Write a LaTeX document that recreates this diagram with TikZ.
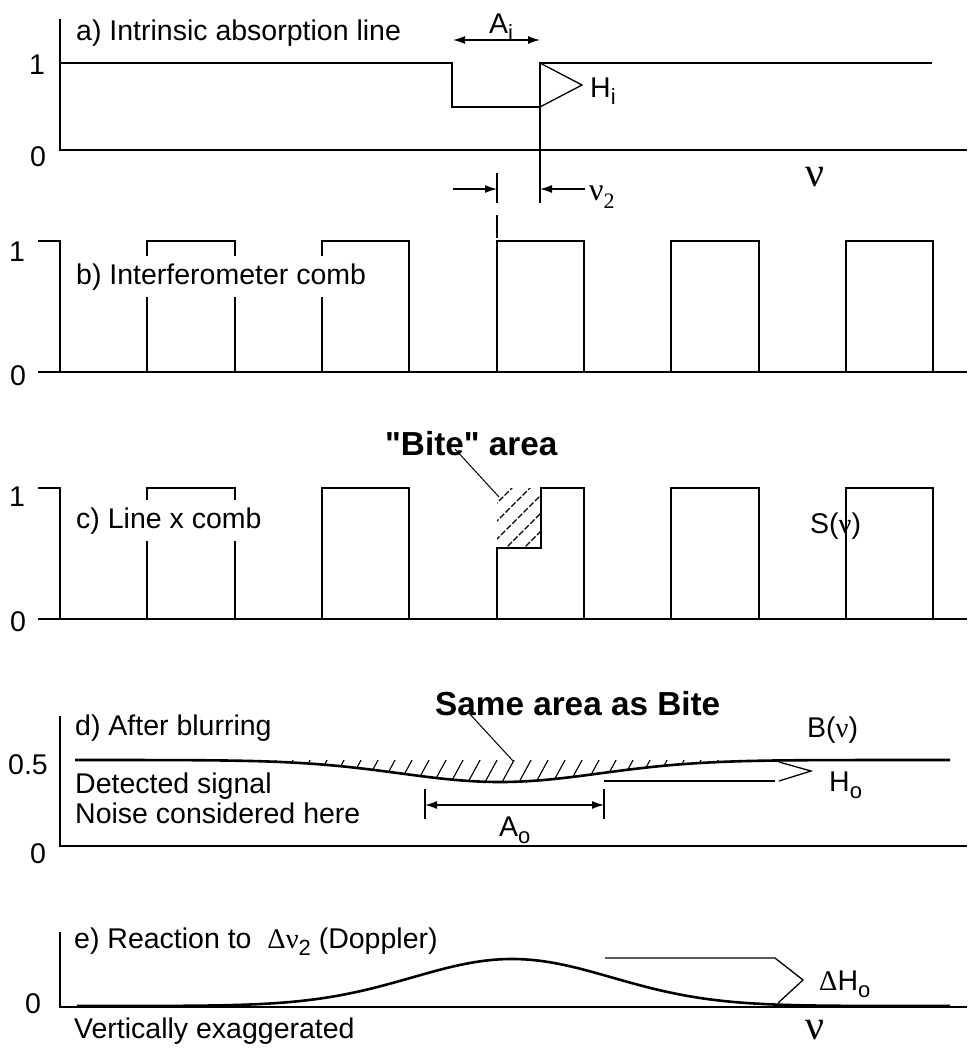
\documentclass[tikz,border=0pt]{standalone}
\usepackage{fontspec}
\setmainfont{Liberation Sans}
\newfontfamily\grk{Liberation Serif}
\newfontfamily\qfont{Liberation Sans}[Ligatures=Common]
\usetikzlibrary{arrows.meta}
\newcommand\lowsub[1]{\raisebox{-0.28em}{\fontsize{22}{22}\selectfont #1}}
\newcommand\sq{{\qfont\char"0022}}
\begin{document}
\begin{tikzpicture}[x=1pt,y=-1pt,
  lbl/.style={font=\fontsize{28.5}{30}\selectfont, inner sep=0pt, anchor=base west},
  num/.style={font=\fontsize{28.5}{30}\selectfont, inner sep=0pt},
  boldlbl/.style={font=\fontsize{33.3}{34}\selectfont\bfseries, inner sep=0pt, anchor=base west},
  bignu/.style={font=\grk\fontsize{42}{42}\selectfont, inner sep=0pt},
  ax/.style={line width=1.3pt},
  sig/.style={line width=2.6pt, line join=miter},
  thinl/.style={line width=1.3pt},
  hatchl/.style={line width=1.1pt, dash pattern=on 6pt off 2pt},
  tip/.style={-{Latex[length=12pt,width=8pt]}},
  dim/.style={line width=1.3pt, {Latex[length=12pt,width=8pt]}-{Latex[length=12pt,width=8pt]}},
  lead/.style={line width=1pt}]
\useasboundingbox (0,0) rectangle (967,1055);

% ---------------- panel a ----------------
\draw[ax] (60,19) -- (60,150) -- (967,150);
\draw[sig] (60,63) -- (452,63) -- (452,107) -- (540,107) -- (540,63) -- (932,63);
\draw[thinl] (540,107) -- (540,203);
\draw[thinl] (540,63) -- (582,85) -- (540,107);
\node[num] (a1) at (37,65) {1};
\node[num] (a0) at (38,157) {0};
\node[lbl] (alab) at (76,40) {a) Intrinsic absorption line};
\coordinate (aiL) at (453,40);
\coordinate (aiR) at (540,40);
\draw[dim] (aiL) -- (aiR);
\node[lbl] (ai) at (489,33) {A\lowsub{i}};
\node[lbl] (hi) at (590,97) {H\lowsub{i}};
\node[bignu] (nua) at (815,177) {ν};
% nu2 marker
\draw[thinl] (497,173) -- (497,203);
\draw[thinl] (497,215) -- (497,238);
\coordinate (m1s) at (453,189);
\coordinate (m1e) at (497,189);
\coordinate (m2s) at (585,189);
\coordinate (m2e) at (540,189);
\draw[thinl,tip] (m1s) -- (m1e);
\draw[thinl,tip] (m2s) -- (m2e);
\node[inner sep=0pt, anchor=base west, font=\grk\fontsize{32}{32}\selectfont] (nu2) at (589,200) {ν\lowsub{\grk 2}};

% ---------------- panel b ----------------
\draw[ax] (38,241) -- (60,241) -- (60,372);
\draw[ax] (38,372) -- (967,372);
\draw[sig] (60,372) -- (147,372) -- (147,241) -- (235,241) -- (235,372) -- (322,372) -- (322,241) -- (409,241) -- (409,372) -- (497,372) -- (497,241) -- (584,241) -- (584,372) -- (671,372) -- (671,241) -- (759,241) -- (759,372) -- (846,372) -- (846,241) -- (933,241) -- (933,372);
\node[num] (b1) at (17,252) {1};
\node[num] (b0) at (18,376) {0};
\node[lbl, fill=white, inner ysep=7pt] (blab) at (76,284) {b) Interferometer comb};

% ---------------- panel c ----------------
\draw[ax] (38,488) -- (60,488) -- (60,619);
\draw[ax] (38,619) -- (967,619);
\begin{scope}
  \clip (497,488) rectangle (541,548);
  \foreach \h in {430,448,...,560} \draw[hatchl] (\h,552) -- ++(68,-68);
\end{scope}
\draw[sig] (60,619) -- (147,619) -- (147,488) -- (235,488) -- (235,619) -- (322,619) -- (322,488) -- (409,488) -- (409,619) -- (497,619) -- (497,548) -- (541,548) -- (541,488) -- (584,488) -- (584,619) -- (671,619) -- (671,488) -- (759,488) -- (759,619) -- (846,619) -- (846,488) -- (933,488) -- (933,619);
\node[num] (c1) at (17,497) {1};
\node[num] (c0) at (18,622) {0};
\node[lbl, fill=white, inner ysep=7pt] (clab) at (76,528) {c) Line x comb};
\node[boldlbl] (bite) at (385,455) {\sq Bite\sq{} area};
\coordinate (biteend) at (499,497);
\draw[lead] (455,449) -- (biteend);
\node[lbl] (snu) at (810,533) {S({\grk ν})};

% ---------------- panel d ----------------
\draw[ax] (60,716) -- (60,846) -- (967,846);
\begin{scope}
  \clip plot[domain=250:770, samples=120] (\x,{760+22*exp(-0.5*((\x-500)/100)^2)}) -- (770,760) -- (250,760) -- cycle;
  \foreach \h in {240,257,...,790} \draw[line width=1.1pt] (\h,795) -- ++(30,-55);
\end{scope}
\draw[sig, line join=round] plot[domain=75:950, samples=200] (\x,{760+22*exp(-0.5*((\x-500)/100)^2)});
\node[num] (d05) at (28,765) {0.5};
\node[num] (d0) at (38,854) {0};
\node[lbl] (dlab) at (75,735) {d) After blurring};
\node[lbl] (dlab2) at (75,793) {Detected signal};
\node[lbl] (dlab3) at (75,823) {Noise considered here};
\node[boldlbl] (same) at (435,715) {Same area as Bite};
\coordinate (sameend) at (514,762);
\draw[lead] (468,712) -- (sameend);
\node[lbl] (bnu) at (807,737) {B({\grk ν})};
% A_o dimension
\draw[thinl] (425,789) -- (425,819);
\draw[thinl] (604,789) -- (604,819);
\coordinate (aoL) at (425,805);
\coordinate (aoR) at (604,805);
\draw[dim] (aoL) -- (aoR);
\node[lbl] (ao) at (499,836) {A\lowsub{o}};
% H_o marker
\draw[thinl] (604,781) -- (775,781);
\draw[thinl] (779,781) -- (811,771) -- (779,762);
\node[lbl] (ho) at (829,791) {H\lowsub{o}};

% ---------------- panel e ----------------
\draw[ax] (60,932) -- (60,1007) -- (967,1007);
\draw[sig, line join=round] plot[domain=77:950, samples=200] (\x,{1006-47*exp(-0.5*((\x-512)/100)^2)});
\node[num] (e0) at (33,1004) {0};
\node[lbl] (elab) at (74,948) {e) Reaction to\ \ {\grk Δν}\lowsub{2} (Doppler)};
\draw[thinl] (605,958) -- (775,958) -- (803,980) -- (778,1003);
\node[lbl] (dho) at (819,990) {{\grk Δ}H\lowsub{o}};
\node[lbl] (vex) at (74,1038) {Vertically exaggerated};
\node[bignu] (nue) at (815,1030) {ν};
\end{tikzpicture}
\end{document}
